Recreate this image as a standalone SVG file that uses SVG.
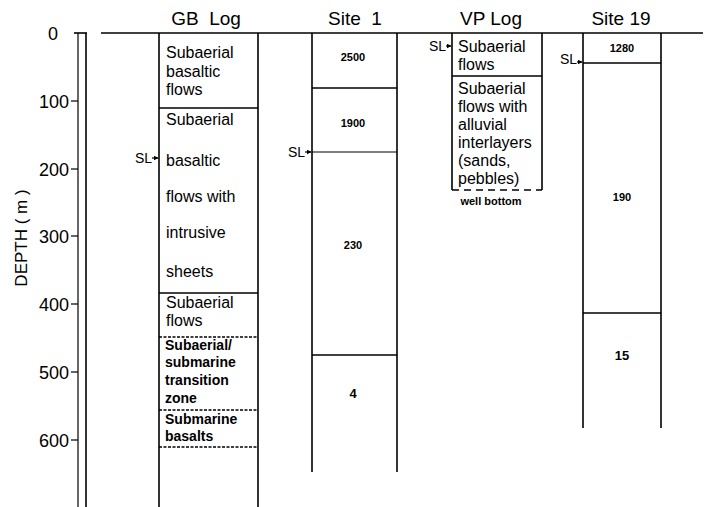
<svg xmlns="http://www.w3.org/2000/svg" width="709" height="507" viewBox="0 0 709 507">
<style>
  text { font-family: "Liberation Sans", Arial, sans-serif; fill: #000; }
  .title { font-size: 19px; text-anchor: middle; }
  .tick { font-size: 18px; text-anchor: end; }
  .lith { font-size: 16px; }
  .lithb { font-size: 14px; font-weight: bold; }
  .num { font-size: 11px; font-weight: bold; text-anchor: middle; }
  .numl { font-size: 13px; font-weight: bold; text-anchor: middle; }
  .sl { font-size: 14px; text-anchor: end; }
  .ln { stroke: #000; stroke-width: 1.6; fill: none; }
  .thin { stroke: #000; stroke-width: 1.2; fill: none; }
  .dot { stroke: #000; stroke-width: 1.6; fill: none; stroke-dasharray: 3 1.5; }
  .dash { stroke: #000; stroke-width: 1.6; fill: none; stroke-dasharray: 7 5; }
</style>
<defs>
  <marker id="ah" markerWidth="5" markerHeight="5" refX="4.5" refY="2.5" orient="auto" markerUnits="userSpaceOnUse">
    <path d="M0,0 L5,2.5 L0,5 Z" fill="#000"/>
  </marker>
</defs>
<rect width="709" height="507" fill="#fff"/>

<!-- titles -->
<g id="titles">
  <text class="title" x="206" y="25" xml:space="preserve">GB  Log</text>
  <text class="title" x="355" y="25" xml:space="preserve">Site  1</text>
  <text class="title" x="491" y="25">VP Log</text>
  <text class="title" x="621" y="25">Site 19</text>
</g>

<!-- top ground line -->
<line class="ln" x1="101" y1="33" x2="703" y2="33"/>

<!-- depth axis -->
<g id="axis">
  <line class="ln" x1="74" y1="33" x2="87" y2="33"/>
  <line class="thin" x1="78" y1="33" x2="78" y2="507"/>
  <line class="ln" x1="86" y1="33" x2="86" y2="507"/>
  <g class="thin">
    <line x1="71" y1="101" x2="78" y2="101"/>
    <line x1="71" y1="169" x2="78" y2="169"/>
    <line x1="71" y1="236" x2="78" y2="236"/>
    <line x1="71" y1="304" x2="78" y2="304"/>
    <line x1="71" y1="372" x2="78" y2="372"/>
    <line x1="71" y1="440" x2="78" y2="440"/>
  </g>
  <text class="tick" x="58" y="40">0</text>
  <text class="tick" x="69" y="108">100</text>
  <text class="tick" x="69" y="176">200</text>
  <text class="tick" x="69" y="243">300</text>
  <text class="tick" x="69" y="311">400</text>
  <text class="tick" x="69" y="379">500</text>
  <text class="tick" x="69" y="447">600</text>
  <text font-size="17" text-anchor="middle" transform="translate(27 238) rotate(-90)" xml:space="preserve">DEPTH ( m )</text>
</g>

<!-- GB Log -->
<g id="gb-log">
  <line class="ln" x1="159" y1="33" x2="159" y2="507"/>
  <line class="ln" x1="258" y1="33" x2="258" y2="507"/>
  <line class="ln" x1="159" y1="108" x2="258" y2="108"/>
  <line class="ln" x1="159" y1="293" x2="258" y2="293"/>
  <line class="dot" x1="159" y1="337" x2="258" y2="337"/>
  <line class="dot" x1="159" y1="410" x2="258" y2="410"/>
  <line class="dot" x1="159" y1="447" x2="258" y2="447"/>
  <text class="lith" x="166" y="58">Subaerial</text>
  <text class="lith" x="166" y="77">basaltic</text>
  <text class="lith" x="166" y="95">flows</text>
  <text class="lith" x="166" y="125">Subaerial</text>
  <text class="lith" x="166" y="166">basaltic</text>
  <text class="lith" x="166" y="202">flows with</text>
  <text class="lith" x="166" y="238">intrusive</text>
  <text class="lith" x="166" y="277">sheets</text>
  <text class="lith" x="166" y="308">Subaerial</text>
  <text class="lith" x="166" y="326">flows</text>
  <text class="lithb" x="165" y="350">Subaerial/</text>
  <text class="lithb" x="165" y="367">submarine</text>
  <text class="lithb" x="165" y="385">transition</text>
  <text class="lithb" x="165" y="403">zone</text>
  <text class="lithb" x="165" y="424">Submarine</text>
  <text class="lithb" x="165" y="441">basalts</text>
</g>

<!-- Site 1 -->
<g id="site-1">
  <line class="ln" x1="312" y1="33" x2="312" y2="472"/>
  <line class="ln" x1="397" y1="33" x2="397" y2="472"/>
  <line class="ln" x1="312" y1="88" x2="397" y2="88"/>
  <line class="thin" x1="312" y1="152" x2="397" y2="152"/>
  <line class="ln" x1="312" y1="355" x2="397" y2="355"/>
  <text class="num" x="353" y="61">2500</text>
  <text class="num" x="353" y="127">1900</text>
  <text class="num" x="353" y="249">230</text>
  <text class="numl" x="353" y="398">4</text>
</g>

<!-- VP Log -->
<g id="vp-log">
  <line class="ln" x1="452" y1="33" x2="452" y2="190"/>
  <line class="ln" x1="542" y1="33" x2="542" y2="190"/>
  <line class="ln" x1="452" y1="76" x2="542" y2="76"/>
  <line class="dash" x1="452" y1="190" x2="542" y2="190"/>
  <text class="lith" x="458" y="52">Subaerial</text>
  <text class="lith" x="458" y="70">flows</text>
  <text class="lith" x="458" y="94">Subaerial</text>
  <text class="lith" x="458" y="112">flows with</text>
  <text class="lith" x="458" y="130">alluvial</text>
  <text class="lith" x="458" y="148">interlayers</text>
  <text class="lith" x="458" y="166">(sands,</text>
  <text class="lith" x="458" y="184">pebbles)</text>
  <text class="num" x="491" y="205">well bottom</text>
</g>

<!-- Site 19 -->
<g id="site-19">
  <line class="ln" x1="583" y1="33" x2="583" y2="428"/>
  <line class="ln" x1="661" y1="33" x2="661" y2="428"/>
  <line class="ln" x1="583" y1="63" x2="661" y2="63"/>
  <line class="ln" x1="583" y1="313" x2="661" y2="313"/>
  <text class="num" x="622" y="52">1280</text>
  <text class="num" x="622" y="201">190</text>
  <text class="numl" x="622" y="360">15</text>
</g>

<!-- sea-level pointers -->
<g id="connectors">
  <text class="sl" x="152" y="163">SL</text>
  <line class="thin" x1="152" y1="158" x2="158" y2="158" marker-end="url(#ah)"/>
  <text class="sl" x="305" y="157">SL</text>
  <line class="thin" x1="305" y1="152" x2="311" y2="152" marker-end="url(#ah)"/>
  <text class="sl" x="446" y="51">SL</text>
  <line class="thin" x1="446" y1="46" x2="451" y2="46" marker-end="url(#ah)"/>
  <text class="sl" x="577" y="64">SL</text>
  <line class="thin" x1="577" y1="62" x2="582" y2="62" marker-end="url(#ah)"/>
</g>
</svg>
